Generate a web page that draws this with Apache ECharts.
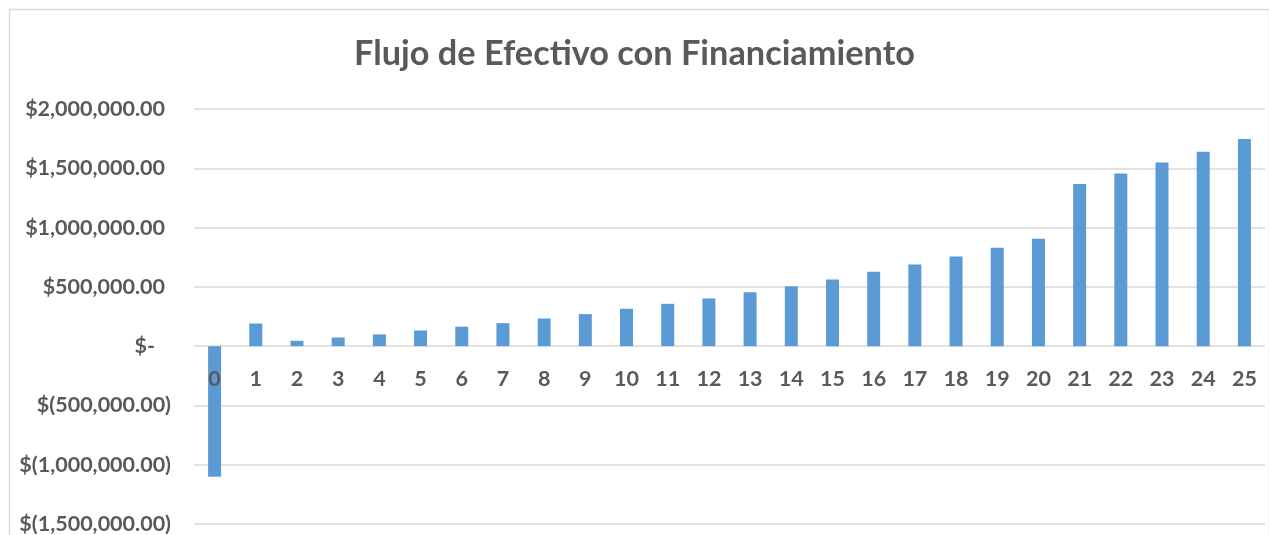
<!DOCTYPE html>
<html>
<head>
<meta charset="utf-8">
<script src="https://cdn.jsdelivr.net/npm/echarts@6/dist/echarts.min.js"></script>
<style>
html,body{margin:0;padding:0;background:#fff;}
#chart{width:1269px;height:535px;}
</style>
</head>
<body>
<div id="chart"></div>
<script>
const titleText = 'Flujo de Efectivo con Financiamiento';
const years = ['0','1','2','3','4','5','6','7','8','9','10','11','12','13','14','15','16','17','18','19','20','21','22','23','24','25'];
const flujo = [-1101000, 191000, 45000, 73000, 99000, 132000, 164000, 194000, 233000, 270000, 315000, 357000, 402000, 455000, 505000, 562000, 627000, 688000, 756000, 829000, 905000, 1368000, 1455000, 1548000, 1640000, 1747000];
const yMin = -1500000, yMax = 2000000, yStep = 500000;

function fmtMoney(v) {
  if (v === 0) return '{z|$-}';
  const s = Math.abs(v).toLocaleString('en-US', {minimumFractionDigits: 2, maximumFractionDigits: 2});
  if (v < 0) return '{n|$(' + s + ')}';
  return '{p|$' + s + '}';
}

const font = 'Lato, "Open Sans", sans-serif';
const grey = '#595959';
const fs = 21.5;
const chart = echarts.init(document.getElementById('chart'));
chart.setOption({
  animation: false,
  backgroundColor: '#fff',
  title: {
    text: titleText,
    left: 'center',
    top: 32,
    textStyle: {fontFamily: font, fontWeight: 'bold', fontSize: 34.3, color: grey}
  },
  graphic: [{
    type: 'rect', left: 7, top: 7, z: -1,
    shape: {width: 1260, height: 540},
    style: {fill: 'none', stroke: '#d9d9d9', lineWidth: 1.5}
  }],
  grid: {left: 194, right: 4, top: 109, bottom: 11, outerBoundsMode: 'none', containLabel: false},
  xAxis: {
    type: 'category',
    data: years,
    z: 5,
    axisLine: {onZero: false, show: false},
    axisTick: {show: false},
    axisLabel: {fontFamily: font, fontWeight: 'bold', fontSize: fs, color: grey, margin: -156, interval: 0}
  },
  yAxis: {
    type: 'value',
    min: yMin, max: yMax, interval: yStep,
    axisLine: {show: false},
    axisTick: {show: false},
    splitLine: {lineStyle: {color: '#d9d9d9', width: 1.5}},
    axisLabel: {
      margin: 23,
      formatter: fmtMoney,
      rich: {
        p: {fontFamily: font, fontWeight: 'bold', fontSize: fs, color: grey, padding: [0, 6, 0, 0]},
        n: {fontFamily: font, fontWeight: 'bold', fontSize: fs, color: grey},
        z: {fontFamily: font, fontWeight: 'bold', fontSize: fs, color: grey, padding: [0, 16, 0, 0]}
      }
    }
  },
  series: [{
    type: 'bar',
    data: flujo,
    barWidth: 13,
    z: 2,
    itemStyle: {color: '#5B9BD5'}
  }]
});
</script>
</body>
</html>
